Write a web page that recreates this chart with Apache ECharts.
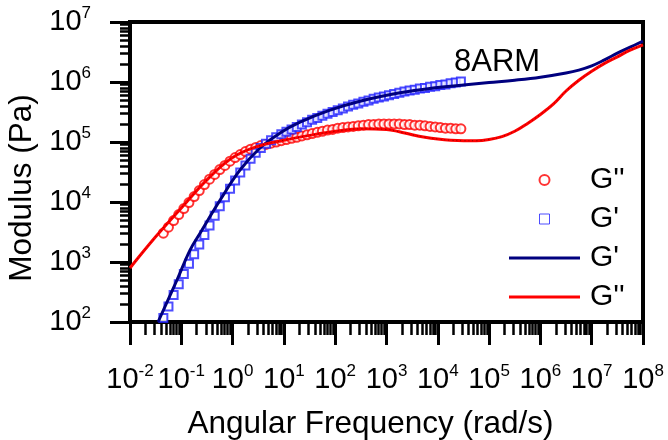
<!DOCTYPE html>
<html><head><meta charset="utf-8">
<script src="https://cdn.jsdelivr.net/npm/echarts@6/dist/echarts.min.js"></script>
<style>html,body{margin:0;padding:0;background:#fff}#c{width:668px;height:440px}</style>
</head><body><div id="c"></div>
<script>
// ---- data ----
const omegaExp = [0.0447,0.0562,0.0708,0.0891,0.112,0.141,0.178,0.224,0.282,0.355,0.447,0.562,0.708,0.891,1.12,1.41,1.78,2.24,2.82,3.55,4.47,5.62,7.08,8.91,11.2,14.1,17.8,22.4,28.2,35.5,44.7,56.2,70.8,89.1,112,141,178,224,282,355,447,562,708,891,1120,1410,1780,2240,2820,3550,4470,5620,7080,8910,11200,14100,17800,22400,28200];
const gppExp = [3020,3800,4900,6170,7760,9770,12300,15500,19500,24000,28800,34700,40700,47900,55000,61700,69200,75900,81300,87100,91200,95500,100000,105000,110000,115000,120000,126000,132000,138000,145000,151000,158000,162000,170000,174000,178000,182000,186000,191000,195000,195000,200000,200000,200000,200000,200000,195000,195000,191000,191000,186000,182000,178000,174000,170000,170000,166000,166000];
const gpExp = [117,182,282,427,631,933,1350,1950,2820,4070,5890,8510,12000,16600,22900,30900,40700,52500,66100,79400,93300,107000,120000,135000,148000,162000,178000,195000,214000,234000,251000,275000,295000,316000,339000,363000,389000,417000,437000,468000,490000,525000,550000,575000,603000,631000,661000,692000,724000,741000,776000,794000,832000,851000,891000,912000,955000,977000,1020000];
const omegaFitGp = [0.0352,0.0824,0.148,0.232,0.568,1.39,3.42,8.4,20.6,79.3,304,1830,8050,31600,100000,316000,1000000,3160000,5620000,10000000,17800000,31600000,56200000,100000000];
const gpFit = [100,501,1580,3020,10700,33900,79400,141000,214000,339000,479000,661000,794000,891000,977000,1070000,1200000,1410000,1580000,1860000,2340000,3020000,3800000,4790000];
const omegaFitGpp = [0.01,0.0316,0.1,0.316,1,3.16,10,31.6,100,316,1000,1780,3160,5620,10000,17800,31600,56200,100000,178000,316000,562000,1000000,1780000,3160000,5620000,10000000,17800000,31600000,56200000,100000000];
const gppFit = [794,2630,7940,23400,55000,85100,107000,129000,151000,166000,162000,148000,132000,120000,112000,107000,105000,105000,110000,123000,151000,204000,288000,427000,708000,1070000,1510000,2040000,2630000,3390000,4170000];

const xMajorTicks = [1e-2,1e-1,1e0,1e1,1e2,1e3,1e4,1e5,1e6,1e7,1e8];
const yMajorTicks = [1e2,1e3,1e4,1e5,1e6,1e7];
const minorOf = (majors) => { const r=[]; for (let i=0;i<majors.length-1;i++){ for(let k=2;k<=9;k++) r.push(k*majors[i]); } return r; };
const xMinorTicks = minorOf(xMajorTicks);
const yMinorTicks = minorOf(yMajorTicks);

const seriesNames = ["G'' exp","G' exp","G' fit","G'' fit"];
const legendLabels = {"G'' exp":"G''","G' exp":"G'","G' fit":"G'","G'' fit":"G''"};

const FONT = "'Liberation Sans', Arial, sans-serif";
const RED = '#ff0000', BLUE = '#2020ff', NAVY = '#00007f';
const pair = (xs, ys) => xs.map((x,i)=>[x, ys[i]]);
const powLabel = v => '{b|10}{s|' + Math.round(Math.log10(v)) + '}';
const richPow = {
  b:{fontSize:29, fontFamily:FONT, color:'#000', lineHeight:34},
  s:{fontSize:17, fontFamily:FONT, color:'#000', lineHeight:14, verticalAlign:'top'}
};
const BAR = 'path://M0,0H71V3H0Z';

const chart = echarts.init(document.getElementById('c'), null, {renderer:'canvas'});
chart.setOption({
  animation:false,
  backgroundColor:'#fff',
  title:{text:'8ARM', left:449, top:42, textStyle:{fontSize:31, fontWeight:'normal', fontFamily:FONT, color:'#000'}},
  grid:{left:130, right:25, top:22, bottom:118, show:true, borderColor:'#000', borderWidth:4, backgroundColor:'transparent', outerBoundsMode:'none'},
  legend:{
    orient:'vertical', left:504, top:160, itemWidth:71, itemHeight:10, itemGap:9,
    selectedMode:false, symbolKeepAspect:true,
    data:[
      {name:seriesNames[0], icon:'emptyCircle'},
      {name:seriesNames[1], icon:'path://M0,0H10V10H0Z', itemStyle:{color:'#fff', borderColor:BLUE, borderWidth:1}},
      {name:seriesNames[2], icon:BAR, itemStyle:{color:NAVY, borderWidth:0}},
      {name:seriesNames[3], icon:BAR, itemStyle:{color:RED, borderWidth:0}}
    ],
    formatter: n => '{t|' + legendLabels[n] + '}',
    textStyle:{rich:{t:{fontSize:30, fontFamily:FONT, color:'#000', padding:[0,0,0,5], lineHeight:30}}}
  },
  xAxis:[
    {type:'log', logBase:10, min:0.01, max:1e8, position:'bottom',
     axisLine:{show:true, onZero:false, lineStyle:{color:'#000', width:4}},
     axisTick:{show:true, inside:false, length:23, customValues:xMajorTicks, lineStyle:{color:'#000', width:3}},
     axisLabel:{show:true, customValues:xMajorTicks, interval:0, margin:41, formatter:powLabel, rich:richPow},
     splitLine:{show:false}, minorTick:{show:false},
     name:'Angular Frequency (rad/s)', nameLocation:'middle', nameGap:86,
     nameTextStyle:{fontSize:31.5, fontFamily:FONT, color:'#000', padding:[0,32,0,0]}},
    {type:'log', logBase:10, min:0.01, max:1e8, position:'bottom', offset:0,
     axisLine:{show:false}, axisLabel:{show:false}, splitLine:{show:false},
     axisTick:{show:true, inside:false, length:13, customValues:xMinorTicks, lineStyle:{color:'#000', width:2.5}}}
  ],
  yAxis:[
    {type:'log', logBase:10, min:100, max:1e7, position:'left',
     axisLine:{show:true, onZero:false, lineStyle:{color:'#000', width:4}},
     axisTick:{show:true, inside:false, length:20, customValues:yMajorTicks, lineStyle:{color:'#000', width:3}},
     axisLabel:{show:true, customValues:yMajorTicks, interval:0, margin:39, formatter:powLabel, rich:richPow},
     splitLine:{show:false}, minorTick:{show:false},
     name:'Modulus (Pa)', nameLocation:'middle', nameGap:92,
     nameTextStyle:{fontSize:31.5, fontFamily:FONT, color:'#000', padding:[0,32,0,0]}},
    {type:'log', logBase:10, min:100, max:1e7, position:'left', offset:0,
     axisLine:{show:false}, axisLabel:{show:false}, splitLine:{show:false},
     axisTick:{show:true, inside:false, length:10, customValues:yMinorTicks, lineStyle:{color:'#000', width:2.5}}}
  ],
  series:[
    {name:seriesNames[0], type:'scatter', xAxisIndex:0, yAxisIndex:0, symbol:'emptyCircle', symbolSize:9,
     itemStyle:{color:RED, borderWidth:1}, data:pair(omegaExp, gppExp)},
    {name:seriesNames[1], type:'scatter', xAxisIndex:0, yAxisIndex:0, symbol:'emptyRect', symbolSize:8,
     itemStyle:{color:BLUE, borderWidth:1}, data:pair(omegaExp, gpExp)},
    {name:seriesNames[2], type:'line', xAxisIndex:0, yAxisIndex:0, smooth:0.4, symbol:'none', showSymbol:false,
     lineStyle:{color:NAVY, width:3}, itemStyle:{color:NAVY}, data:pair(omegaFitGp, gpFit)},
    {name:seriesNames[3], type:'line', xAxisIndex:0, yAxisIndex:0, smooth:0.4, symbol:'none', showSymbol:false,
     lineStyle:{color:RED, width:3}, itemStyle:{color:RED}, data:pair(omegaFitGpp, gppFit)},
    {name:'dots', type:'line', xAxisIndex:0, yAxisIndex:0, smooth:0.4, symbol:'none', showSymbol:false, silent:true,
     lineStyle:{color:'#000', width:1, type:[1,3], opacity:0.45}, data:pair(omegaFitGpp, gppFit)}
  ]
});
</script></body></html>
